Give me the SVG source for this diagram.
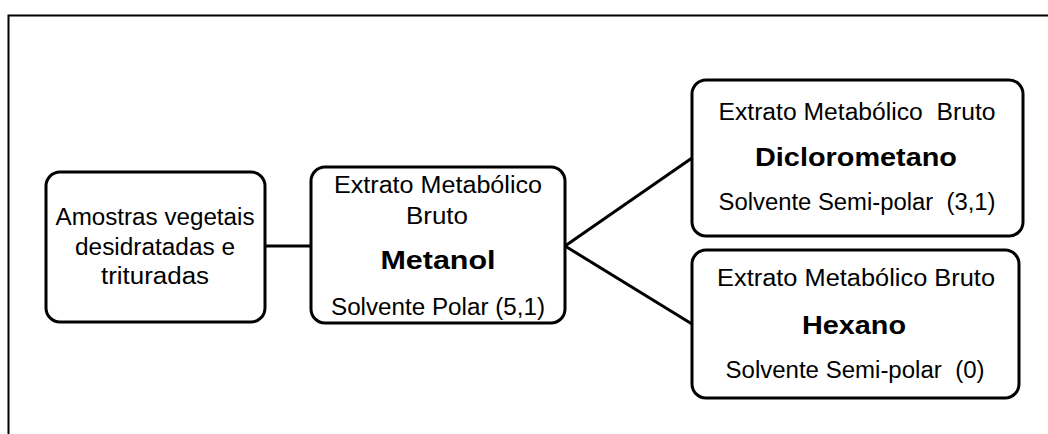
<svg xmlns="http://www.w3.org/2000/svg" width="1048" height="434" viewBox="0 0 1048 434">
<style>
.box{fill:#fff;stroke:#000;stroke-width:3}
.t{font-family:"Liberation Sans",Arial,sans-serif;font-size:23px;fill:#000;text-anchor:middle}
.b{font-family:"Liberation Sans",Arial,sans-serif;font-size:26px;font-weight:bold;fill:#000;text-anchor:middle}
.c{stroke:#000;stroke-width:3;fill:none}
</style>
<rect x="0" y="0" width="1048" height="434" fill="#fff"/>
<path d="M8.5 450 V15.5 H1060" fill="none" stroke="#000" stroke-width="2"/>
<g id="connectors">
<line class="c" x1="265" y1="246" x2="311" y2="246"/>
<line class="c" x1="565" y1="246" x2="692" y2="158"/>
<line class="c" x1="565" y1="246" x2="692" y2="324"/>
</g>
<g id="amostras">
<rect class="box" x="46" y="172" width="219" height="150" rx="14"/>
<text class="t" x="155" y="225" textLength="199" lengthAdjust="spacingAndGlyphs">Amostras vegetais</text>
<text class="t" x="155" y="255" textLength="160" lengthAdjust="spacingAndGlyphs">desidratadas e</text>
<text class="t" x="155" y="284" textLength="108" lengthAdjust="spacingAndGlyphs">trituradas</text>
</g>
<g id="metanol">
<rect class="box" x="311" y="167" width="254" height="156" rx="14"/>
<text class="t" x="438" y="193" textLength="208" lengthAdjust="spacingAndGlyphs">Extrato Metabólico</text>
<text class="t" x="437" y="224" textLength="62" lengthAdjust="spacingAndGlyphs">Bruto</text>
<text class="b" x="438" y="269" textLength="115" lengthAdjust="spacingAndGlyphs">Metanol</text>
<text class="t" x="438" y="315" textLength="214" lengthAdjust="spacingAndGlyphs">Solvente Polar (5,1)</text>
</g>
<g id="diclorometano">
<rect class="box" x="692" y="80" width="331" height="156" rx="14"/>
<text class="t" x="857" y="120" textLength="277" lengthAdjust="spacingAndGlyphs" xml:space="preserve">Extrato Metabólico  Bruto</text>
<text class="b" x="856" y="166" textLength="202" lengthAdjust="spacingAndGlyphs">Diclorometano</text>
<text class="t" x="857" y="210" textLength="277" lengthAdjust="spacingAndGlyphs" xml:space="preserve">Solvente Semi-polar  (3,1)</text>
</g>
<g id="hexano">
<rect class="box" x="692" y="250" width="327" height="148" rx="14"/>
<text class="t" x="856" y="286" textLength="278" lengthAdjust="spacingAndGlyphs">Extrato Metabólico Bruto</text>
<text class="b" x="854" y="334" textLength="104" lengthAdjust="spacingAndGlyphs">Hexano</text>
<text class="t" x="855" y="378" textLength="259" lengthAdjust="spacingAndGlyphs" xml:space="preserve">Solvente Semi-polar  (0)</text>
</g>
</svg>
